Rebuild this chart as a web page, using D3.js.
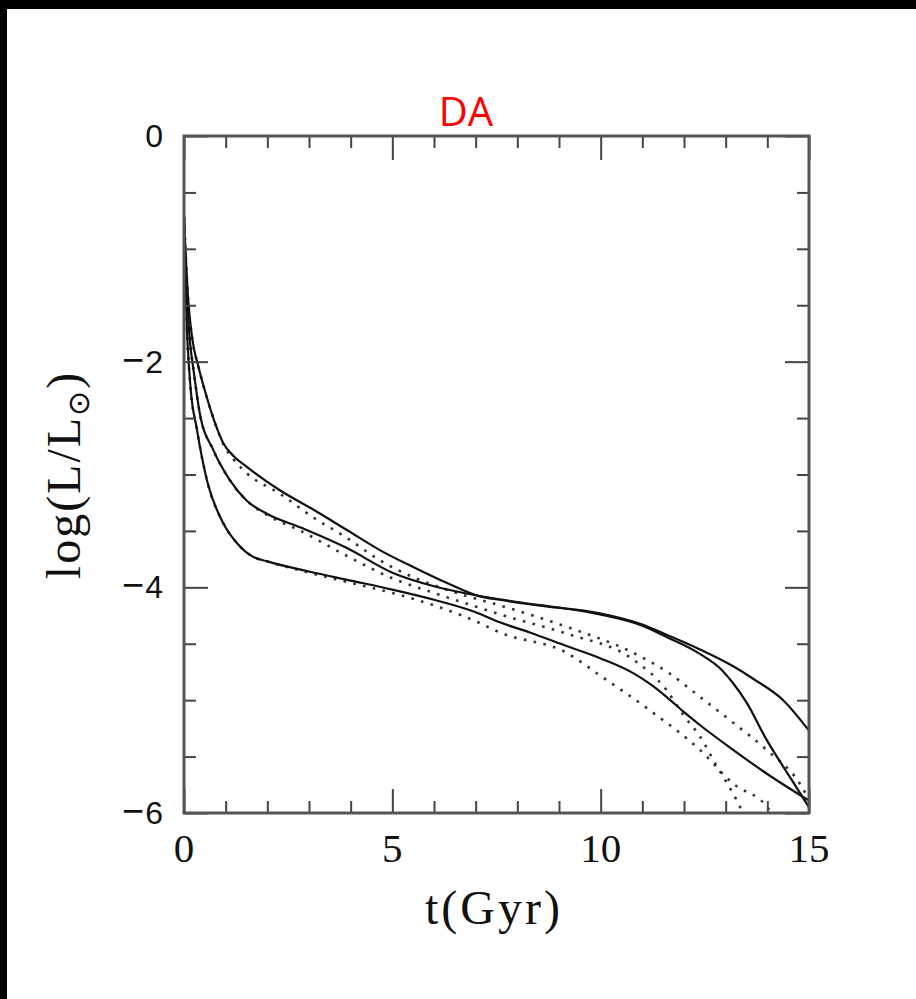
<!DOCTYPE html>
<html>
<head>
<meta charset="utf-8">
<script src="https://cdn.jsdelivr.net/npm/d3@7"></script>
<style>
  html, body { margin: 0; padding: 0; background: #fff; }
  svg { display: block; }
</style>
</head>
<body>
<script>
// ---------------- data ----------------
const title = "DA";
const xLabel = "t(Gyr)";
const xDomain = [0, 15];
const yDomain = [-6, 0];
const xMajorTicks = [0, 5, 10, 15];
const xTickLabels = ["0", "5", "10", "15"];
const xMinorTicks = [1, 2, 3, 4, 6, 7, 8, 9, 11, 12, 13, 14];
const yMajorTicks = [0, -2, -4, -6];
const yTickLabels = ["0", "\u22122", "\u22124", "\u22126"];
const yMinorTicks = [-0.5, -1, -1.5, -2.5, -3, -3.5, -4.5, -5, -5.5];

// solid cooling curves  [t (Gyr), log(L/Lsun)]
const solidA = [[0,-0.72],[0.1,-1.45],[0.2,-1.8],[0.35,-2.05],[0.55,-2.32],[0.75,-2.55],[0.94,-2.72],[1.2,-2.84],[1.5,-2.93],[2.3,-3.14],[3.1,-3.31],[3.9,-3.49],[4.7,-3.67],[5.5,-3.82],[6.3,-3.96],[7.1,-4.08],[7.58,-4.11],[8.5,-4.16],[9.98,-4.23],[11.0,-4.33],[11.58,-4.42],[12.38,-4.55],[13.18,-4.70],[13.66,-4.81],[14.38,-5.0],[15,-5.27]];
const solidB = [[0,-0.72],[0.08,-1.5],[0.15,-1.85],[0.22,-2.05],[0.38,-2.46],[0.7,-2.78],[1.1,-3.05],[1.5,-3.23],[2.0,-3.35],[2.8,-3.47],[3.9,-3.65],[5.0,-3.87],[6.0,-3.99],[7.0,-4.07],[8.0,-4.13],[9.0,-4.18],[9.98,-4.24],[11.0,-4.34],[11.58,-4.44],[12.38,-4.59],[12.9,-4.73],[13.18,-4.85],[13.5,-5.02],[13.98,-5.35],[14.54,-5.68],[15,-5.95]];
const solidC = [[0,-0.72],[0.06,-1.6],[0.15,-2.2],[0.31,-2.6],[0.55,-3.05],[0.94,-3.43],[1.3,-3.62],[1.66,-3.73],[2.0,-3.77],[3.0,-3.86],[4.0,-3.94],[5.0,-4.02],[6.0,-4.11],[7.0,-4.22],[7.58,-4.31],[8.3,-4.4],[9.18,-4.52],[10.0,-4.63],[10.78,-4.76],[11.2,-4.86],[11.58,-4.97],[11.98,-5.1],[12.38,-5.22],[13.18,-5.44],[13.98,-5.65],[15,-5.89]];

// dotted cooling curves
const dottedA = [[0,-0.72],[0.1,-1.45],[0.2,-1.8],[0.35,-2.05],[0.55,-2.32],[0.75,-2.55],[0.94,-2.73],[1.2,-2.87],[1.51,-2.99],[2.3,-3.17],[3.1,-3.38],[3.9,-3.56],[4.7,-3.76],[5.5,-3.91],[6.3,-4.02],[7.1,-4.11],[7.58,-4.16],[9.18,-4.35],[10.78,-4.58],[11.6,-4.75],[12.38,-4.97],[13.18,-5.2],[13.98,-5.44],[14.78,-5.74],[15,-5.88]];
const dottedB = [[0,-0.72],[0.08,-1.5],[0.15,-1.85],[0.22,-2.05],[0.38,-2.46],[0.7,-2.78],[1.1,-3.05],[1.5,-3.23],[2.0,-3.36],[2.8,-3.5],[3.9,-3.72],[5.0,-3.92],[6.0,-4.05],[7.0,-4.17],[7.58,-4.24],[9.18,-4.41],[10.78,-4.64],[11.58,-4.91],[11.98,-5.13],[12.38,-5.32],[12.78,-5.58],[13.18,-5.83],[13.42,-6.0]];
const dottedC = [[0,-0.72],[0.06,-1.6],[0.15,-2.2],[0.31,-2.6],[0.55,-3.05],[0.94,-3.43],[1.3,-3.62],[1.66,-3.73],[2.0,-3.77],[3.0,-3.87],[4.0,-3.96],[5.0,-4.05],[6.0,-4.16],[7.0,-4.3],[7.58,-4.4],[9.18,-4.58],[9.98,-4.78],[11.18,-5.09],[12.38,-5.44],[13.18,-5.74],[13.98,-5.94],[14.1,-6.0]];

const solidSeries = [solidA, solidB, solidC];
const dottedSeries = [dottedA, dottedB, dottedC];

// ---------------- layout ----------------
const W = 916, H = 999;
const plot = { left: 184, top: 136, right: 809, bottom: 813 };

const svg = d3.select("body").append("svg")
  .attr("width", W).attr("height", H);

svg.append("rect").attr("x", 0).attr("y", 0).attr("width", W).attr("height", H).attr("fill", "#fff");
// black scan edges
svg.append("rect").attr("x", 0).attr("y", 0).attr("width", W).attr("height", 9).attr("fill", "#000");
svg.append("rect").attr("x", 0).attr("y", 0).attr("width", 7).attr("height", H).attr("fill", "#000");

const x = d3.scaleLinear().domain(xDomain).range([plot.left, plot.right]);
const y = d3.scaleLinear().domain(yDomain).range([plot.bottom, plot.top]);

svg.append("defs").append("clipPath").attr("id", "clip")
  .append("rect")
  .attr("x", plot.left).attr("y", plot.top)
  .attr("width", plot.right - plot.left).attr("height", plot.bottom - plot.top);

const line = d3.line()
  .x(d => x(d[0])).y(d => y(d[1]))
  .curve(d3.curveMonotoneX);

const curves = svg.append("g").attr("clip-path", "url(#clip)");
curves.selectAll("path.dotted").data(dottedSeries).join("path")
  .attr("class", "dotted")
  .attr("d", line)
  .attr("fill", "none")
  .attr("stroke", "#333")
  .attr("stroke-width", 2.6)
  .attr("stroke-dasharray", "2.6,7.4");
curves.selectAll("path.solid").data(solidSeries).join("path")
  .attr("class", "solid")
  .attr("d", line)
  .attr("fill", "none")
  .attr("stroke", "#111")
  .attr("stroke-width", 2.2);

// ---------------- axes (ticks inward on all four sides) ----------------
function styleAxis(g) {
  g.select(".domain").remove();
  g.selectAll(".tick line").attr("stroke", "#444").attr("stroke-width", 2);
  g.selectAll(".tick text").remove();
}
const majorLen = 24, minorLen = 12;
svg.append("g").attr("transform", `translate(0,${plot.bottom})`)
  .call(d3.axisBottom(x).tickValues(xMajorTicks).tickSize(-majorLen)).call(styleAxis);
svg.append("g").attr("transform", `translate(0,${plot.bottom})`)
  .call(d3.axisBottom(x).tickValues(xMinorTicks).tickSize(-minorLen)).call(styleAxis);
svg.append("g").attr("transform", `translate(0,${plot.top})`)
  .call(d3.axisTop(x).tickValues(xMajorTicks).tickSize(-majorLen)).call(styleAxis);
svg.append("g").attr("transform", `translate(0,${plot.top})`)
  .call(d3.axisTop(x).tickValues(xMinorTicks).tickSize(-minorLen)).call(styleAxis);
svg.append("g").attr("transform", `translate(${plot.left},0)`)
  .call(d3.axisLeft(y).tickValues(yMajorTicks).tickSize(-majorLen)).call(styleAxis);
svg.append("g").attr("transform", `translate(${plot.left},0)`)
  .call(d3.axisLeft(y).tickValues(yMinorTicks).tickSize(-minorLen)).call(styleAxis);
svg.append("g").attr("transform", `translate(${plot.right},0)`)
  .call(d3.axisRight(y).tickValues(yMajorTicks).tickSize(-majorLen)).call(styleAxis);
svg.append("g").attr("transform", `translate(${plot.right},0)`)
  .call(d3.axisRight(y).tickValues(yMinorTicks).tickSize(-minorLen)).call(styleAxis);

// frame
svg.append("rect")
  .attr("x", plot.left).attr("y", plot.top)
  .attr("width", plot.right - plot.left).attr("height", plot.bottom - plot.top)
  .attr("fill", "none").attr("stroke", "#555").attr("stroke-width", 3);

// ---------------- tick labels ----------------
svg.append("g").selectAll("text").data(xMajorTicks).join("text")
  .attr("x", d => x(d))
  .attr("y", 862)
  .attr("text-anchor", "middle")
  .attr("font-family", "'Liberation Serif', 'DejaVu Serif', serif")
  .attr("font-size", 41)
  .attr("fill", "#111")
  .text((d, i) => xTickLabels[i]);

svg.append("g").selectAll("text").data(yMajorTicks).join("text")
  .attr("x", 163)
  .attr("y", d => y(d) + 11)
  .attr("text-anchor", "end")
  .attr("font-family", "'Liberation Sans', Arial, sans-serif")
  .attr("font-size", 32)
  .attr("fill", "#111")
  .each(function(d, i) {
    const lab = yTickLabels[i];
    const t = d3.select(this);
    if (lab.startsWith("\u2212")) {
      t.append("tspan").attr("font-size", 38).text("\u2212");
      t.append("tspan").attr("dx", 1).text(lab.slice(1));
    } else {
      t.text(lab);
    }
  });

// ---------------- axis titles ----------------
svg.append("text")
  .attr("x", 494).attr("y", 924)
  .attr("text-anchor", "middle")
  .attr("font-family", "'Liberation Serif', 'DejaVu Serif', serif")
  .attr("font-size", 48)
  .attr("letter-spacing", 3)
  .attr("fill", "#111")
  .text(xLabel);

const yl = svg.append("text")
  .attr("transform", "translate(80,475) rotate(-90)")
  .attr("text-anchor", "middle")
  .attr("font-family", "'Liberation Serif', 'DejaVu Serif', serif")
  .attr("font-size", 48)
  .attr("letter-spacing", 2)
  .attr("fill", "#111");
yl.append("tspan").text("log(L/L");
yl.append("tspan").attr("font-size", 30).attr("dy", 9).attr("font-family", "'DejaVu Sans', sans-serif").text("\u2299");
yl.append("tspan").attr("dy", -9).text(")");

// ---------------- title ----------------
svg.append("text")
  .attr("x", 466).attr("y", 126)
  .attr("text-anchor", "middle")
  .attr("font-family", "'Open Sans', 'Liberation Sans', sans-serif")
  .attr("font-size", 40)
  .attr("fill", "#ff0000")
  .text(title);
</script>
</body>
</html>
